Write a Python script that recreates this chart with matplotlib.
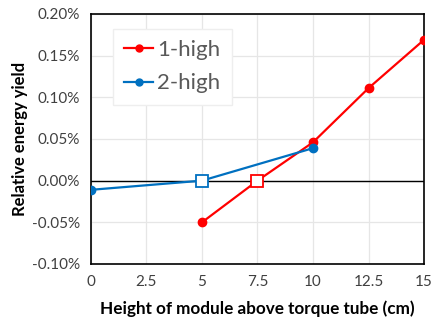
import matplotlib
matplotlib.use("Agg")
import matplotlib.pyplot as plt
from matplotlib.lines import Line2D

plt.rcParams['font.family'] = ['Lato', 'DejaVu Sans']

# data (relative energy yield in %)
x_one = [5, 10, 12.5, 15]
y_one = [-0.050, 0.046, 0.111, 0.169]
x_two = [0, 10]
y_two = [-0.011, 0.039]
# zero crossing points (hollow squares)
x_one_zero = 7.5
x_two_zero = 5

red = '#ff0000'
blue = '#0070c0'

fig = plt.figure(figsize=(4.32, 3.23), dpi=100)
ax = fig.add_axes([0.2106, 0.1827, 0.7709, 0.774])

# 1-high line through its zero crossing
xs1 = [x_one[0], x_one_zero] + x_one[1:]
ys1 = [y_one[0], 0] + y_one[1:]
ax.plot(xs1, ys1, '-', color=red, lw=1.6, zorder=3)
ax.plot(x_one, y_one, 'o', color=red, ms=6, zorder=4)
ax.plot([x_one_zero], [0], 's', mfc='white', mec=red, mew=1.3, ms=9, zorder=5)

xs2 = [x_two[0], x_two_zero, x_two[1]]
ys2 = [y_two[0], 0, y_two[1]]
ax.plot(xs2, ys2, '-', color=blue, lw=1.6, zorder=3)
ax.plot(x_two, y_two, 'o', color=blue, ms=6, zorder=4)
ax.plot([x_two_zero], [0], 's', mfc='white', mec=blue, mew=1.3, ms=9, zorder=5)

ax.axhline(0, color='black', lw=1, zorder=2)

ax.set_xlim(0, 15)
ax.set_ylim(-0.10, 0.20)
ax.set_xticks([0, 2.5, 5, 7.5, 10, 12.5, 15])
ax.set_xticklabels(['0', '2.5', '5', '7.5', '10', '12.5', '15'])
yt = [-0.10, -0.05, 0, 0.05, 0.10, 0.15, 0.20]
ax.set_yticks(yt)
ax.set_yticklabels(['%.2f%%' % v for v in yt])
ax.tick_params(length=0, labelsize=11, colors='#404040', pad=8)
ax.grid(color='#e6e6e6', lw=0.9)
ax.set_axisbelow(True)
for s in ax.spines.values():
    s.set_color('black')
    s.set_linewidth(1.2)

ax.set_xlabel('Height of module above torque tube (cm)', fontsize=12.3, fontweight='bold', labelpad=8)
ax.set_ylabel('Relative energy yield', fontsize=12, fontweight='bold', labelpad=3)

handles = [Line2D([], [], color=red, marker='o', lw=1.6, ms=5),
           Line2D([], [], color=blue, marker='o', lw=1.6, ms=5)]
leg = ax.legend(handles, ['1-high', '2-high'], loc='upper left', bbox_to_anchor=(0.066, 0.94),
                fontsize=16, fancybox=False, framealpha=1, edgecolor='#eeeeee',
                handlelength=1.3, handletextpad=0.2, labelspacing=0.6, borderpad=0.5,
                borderaxespad=0)
for t in leg.get_texts():
    t.set_color('#595959')

fig.savefig('out.png', dpi=100)
